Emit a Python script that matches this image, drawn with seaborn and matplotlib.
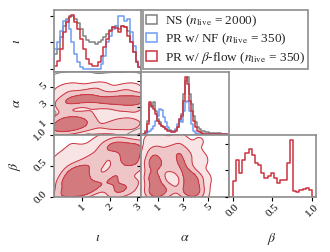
import numpy as np
import pandas as pd
import matplotlib
matplotlib.use("Agg")
import matplotlib.pyplot as plt
from matplotlib.colors import ListedColormap
from matplotlib.patches import Patch
from matplotlib.ticker import FixedLocator, MaxNLocator
import seaborn as sns

# ---- data (relative heights) ----
iota_ns = [45, 60, 95, 130, 150, 160, 160, 150, 138, 120, 100, 88, 82, 80, 75,
           82, 88, 95, 105, 118, 125, 130, 120, 130, 125, 115, 80, 50, 20, 5]
iota_nf = [60, 82, 115, 145, 148, 120, 80, 45, 20, 5, 0, 0, 0, 0, 0,
           0, 15, 40, 80, 100, 120, 130, 158, 160, 145, 150, 110, 70, 25, 5]
iota_bf = [8, 25, 60, 110, 140, 155, 162, 140, 120, 90, 60, 30, 15, 8, 8,
           20, 40, 65, 90, 115, 125, 122, 110, 128, 125, 100, 80, 50, 20, 5]

alpha_ns = [10, 40, 90, 80, 95, 70, 45, 35, 25, 20, 15, 12, 12, 10, 10, 12, 20, 40, 60, 120,
            160, 170, 120, 90, 55, 35, 20, 15, 10, 8, 6, 5, 4, 4, 3, 3, 2, 2, 1, 1]
alpha_nf = [0, 5, 10, 15, 25, 40, 55, 75, 72, 50, 35, 20, 10, 5, 5, 15, 30, 45, 35, 70,
            95, 100, 70, 30, 10, 3, 0, 0, 0, 0, 0, 0, 0, 0, 0, 0, 0, 0, 0, 0]
alpha_bf = [5, 30, 95, 85, 75, 60, 40, 30, 25, 20, 15, 10, 8, 5, 5, 10, 20, 45, 55, 100,
            170, 150, 100, 70, 40, 20, 10, 5, 3, 0, 0, 0, 0, 0, 0, 0, 0, 0, 0, 0]

beta_bf = [47, 112, 72, 112, 132, 144, 127, 102, 97, 72, 57, 62, 72, 57, 42,
           52, 52, 102, 172, 17, 14, 22, 24, 27, 22]

# 2D blobs (centre x, centre y, weight)
ia_x = [0.5, 0.9, 1.3, 1.7, 2.1, 2.5, 2.9, 3.1,
        0.15, 0.5, 0.9, 0.3, 0.7, 1.1, 2.3,
        0.3, 1.3, 2.3, 3.0, 3.0, 1.6, 0.5, 1.5, 2.6, 2.8]
ia_y = [3.4, 3.7, 3.7, 3.5, 3.5, 3.5, 3.5, 3.4,
        0.4, 0.5, 0.6, 1.2, 1.4, 1.1, 0.85,
        2.4, 2.2, 2.3, 2.2, 1.0, 0.5, 4.7, 4.8, 4.7, 0.2]
ia_w = [3, 3, 3, 2.5, 3, 3, 3, 2.5,
        3, 3, 2.5, 3, 2.5, 2, 2.5,
        1.2, 1, 1, 1.2, 1.2, 1, 1.2, 1.2, 1.2, 1]

ia_ns_x = [0.3, 1.0, 2.0, 2.8, 0.5, 1.5, 2.5, 0.5, 2.0, 1.2, 2.8]
ia_ns_y = [5.3, 5.5, 5.3, 5.4, 3.6, 3.4, 3.4, 0.6, 0.6, 2.0, 1.5]
ia_ns_w = [1, 1, 1, 1, 2, 2, 2, 2, 2, 1, 1]

ib_x = [0.3, 0.7, 1.1, 1.35, 0.4, 0.8, 1.2, 0.6, 0.95,
        1.95, 2.3, 2.7, 3.05, 2.5, 2.9, 3.1,
        2.2, 2.15, 2.25, 2.55,
        1.55, 1.6, 1.3, 0.3, 0.8, 3.0, 2.9, 1.7, 2.3, 2.7, 0.6, 1.5]
ib_y = [0.05, 0.08, 0.08, 0.15, 0.25, 0.28, 0.3, 0.42, 0.45,
        0.8, 0.82, 0.8, 0.78, 0.62, 0.6, 0.5,
        0.4, 0.25, 0.08, 0.15,
        0.5, 0.2, 0.65, 0.6, 0.7, 0.25, 0.05, 0.9, 0.98, 0.4, 0.88, 0.58]
ib_w = [3, 3, 3, 2, 3, 3, 2.5, 2.5, 2.5,
        2.5, 3, 3, 3, 3, 3, 2,
        2.5, 3, 3, 2,
        1.5, 1.5, 1.2, 1, 0.8, 1.5, 1.2, 0.8, 0.8, 1, 0.4, 1.5]

ab_x = [0.5, 1.0, 1.4, 0.5, 0.9, 0.5, 1.0, 0.7,
        2.7, 2.9, 3.2, 3.5, 3.6, 4.1, 3.9, 3.1,
        2.0, 2.0, 1.9, 1.2, 2.7, 4.3, 3.5, 0.3, 4.7, 4.3, 2.1]
ab_y = [0.08, 0.08, 0.12, 0.3, 0.3, 0.52, 0.55, 0.7,
        0.72, 0.55, 0.4, 0.25, 0.08, 0.1, 0.3, 0.1,
        0.45, 0.12, 0.75, 0.88, 0.9, 0.6, 0.7, 0.92, 0.3, 0.9, 0.62]
ab_w = [3, 3, 2, 3, 2.5, 3, 3, 2.5,
        2.5, 3, 3, 3, 3, 3, 2.5, 2,
        1.5, 1.5, 1.2, 1, 1, 1, 1, 0.5, 0.6, 0.5, 1.2]

labels = [r"NS ($n_{\rm live}$ = 2000)", r"PR w/ NF ($n_{\rm live}$ = 350)",
          r"PR w/ $\beta$-flow ($n_{\rm live}$ = 350)"]

GRAY, BLUE, RED = "#808080", "#6f9ef0", "#cc3340"
FILLS = ["#f8e4e5", "#efc6c8", "#d27a7e"]
LEVELS = [0.03, 0.2, 0.6]
SPINE = "#8c8c8c"

sns.set_style("ticks")
plt.rcParams["font.family"] = ["Liberation Serif", "DejaVu Serif"]
plt.rcParams["mathtext.fontset"] = "stix"

iota_lim = (0, np.pi)
alpha_lim = (-0.05 * 2 * np.pi, 1.05 * 2 * np.pi)
beta_lim = (0, 1)

fig, axes = plt.subplots(3, 3, figsize=(3.3, 2.52), dpi=100)
fig.subplots_adjust(left=0.1636, right=0.9576, top=0.9603, bottom=0.2183,
                    wspace=0, hspace=0)


def step_hist(ax, vals, lo, hi, color):
    edges = np.linspace(lo, hi, len(vals) + 1)
    w = edges[1] - edges[0]
    # pad with empty bins so the outline drops to the baseline
    edges = np.concatenate([[lo - w], edges, [hi + w]])
    df = pd.DataFrame({"x": (edges[:-1] + edges[1:]) / 2,
                       "h": np.concatenate([[0], vals, [0]])})
    sns.histplot(data=df, x="x", weights="h", bins=list(edges), element="step",
                 fill=False, color=color, linewidth=1.1, ax=ax)


def kde2d(ax, xs, ys, ws, bw):
    df = pd.DataFrame({"x": xs, "y": ys, "w": ws})
    for lv, fc in zip(LEVELS, FILLS):
        sns.kdeplot(data=df, x="x", y="y", weights="w", bw_method=bw, fill=True,
                    levels=[lv, 1], cmap=ListedColormap([fc]), ax=ax, cut=4)
    sns.kdeplot(data=df, x="x", y="y", weights="w", bw_method=bw, fill=False,
                levels=LEVELS, color=RED, linewidths=0.7, ax=ax, cut=4)


# 1D marginals
ax = axes[0, 0]
for v, c in [(iota_ns, GRAY), (iota_nf, BLUE), (iota_bf, RED)]:
    step_hist(ax, v, 0, np.pi, c)
m = max(max(iota_ns), max(iota_nf), max(iota_bf))
ax.set_ylim(-0.06 * m, 1.09 * m)
ax.set_xlim(iota_lim)

ax = axes[1, 1]
for v, c in [(alpha_ns, GRAY), (alpha_nf, BLUE), (alpha_bf, RED)]:
    step_hist(ax, v, 0, 2 * np.pi, c)
m = max(alpha_bf)
ax.set_ylim(-0.01 * m, 1.09 * m)
ax.set_xlim(alpha_lim)

ax = axes[2, 2]
step_hist(ax, beta_bf, 0, 1, RED)
ax.set_ylim(0, 1.09 * max(beta_bf))
ax.set_xlim(-0.05, 1.05)

# 2D panels
ax = axes[1, 0]
kde2d(ax, ia_x, ia_y, ia_w, 0.35)
ns_df = pd.DataFrame({"x": ia_ns_x, "y": ia_ns_y, "w": ia_ns_w})
sns.kdeplot(data=ns_df, x="x", y="y", weights="w", bw_method=0.4, levels=[0.05],
            color=GRAY, linewidths=0.7, ax=ax, cut=4)
ax.set_xlim(iota_lim)
ax.set_ylim(alpha_lim)

ax = axes[2, 0]
kde2d(ax, ib_x, ib_y, ib_w, 0.36)
ax.set_xlim(iota_lim)
ax.set_ylim(beta_lim)

ax = axes[2, 1]
kde2d(ax, ab_x, ab_y, ab_w, 0.36)
ax.set_xlim(alpha_lim)
ax.set_ylim(beta_lim)

for a in [axes[0, 1], axes[0, 2], axes[1, 2]]:
    a.set_visible(False)

iota_t, alpha_t, beta_t = [1, 2, 3], [1, 3, 5], [0.0, 0.5, 1.0]
xt = {0: iota_t, 1: alpha_t, 2: beta_t}
for i in range(3):
    for j in range(i + 1):
        a = axes[i, j]
        a.set_xlabel("")
        a.set_ylabel("")
        for s in a.spines.values():
            s.set_visible(True)
            s.set_color(SPINE)
            s.set_linewidth(1.2)
        a.xaxis.set_major_locator(FixedLocator(xt[j]))
        if i == j:
            a.yaxis.set_major_locator(MaxNLocator(3))
        else:
            a.yaxis.set_major_locator(FixedLocator(xt[i]))
        a.tick_params(length=3, width=0.8, labelsize=8, pad=1,
                      color="black", labelcolor="black")
        if i < 2:
            a.set_xticklabels([])
        if j > 0 or i == 0:
            a.set_yticklabels([])

axes[2, 0].set_xticklabels(["1", "2", "3"], rotation=45, ha="center", va="top")
axes[2, 1].set_xticklabels(["1", "3", "5"], rotation=45, ha="center", va="top")
axes[2, 2].set_xticklabels(["0.0", "0.5", "1.0"], rotation=45, ha="center", va="top")
axes[1, 0].set_yticklabels(["1", "3", "5"], rotation=45, va="center")
axes[2, 0].set_yticklabels(["0.0", "0.5", "1.0"], rotation=45, va="center")

for i, name in enumerate([r"$\iota$", r"$\alpha$", r"$\beta$"]):
    axes[i, 0].set_ylabel(name, fontsize=10)
    axes[i, 0].yaxis.set_label_coords(-0.36, 0.5)
    axes[2, i].set_xlabel(name, fontsize=10)
    axes[2, i].xaxis.set_label_coords(0.5, -0.55)

handles = [Patch(facecolor="none", edgecolor=c, linewidth=1.1) for c in (GRAY, BLUE, RED)]
leg = fig.legend(handles, labels, loc="upper left", bbox_to_anchor=(0.433, 0.960),
                 borderaxespad=0, fontsize=9.5, fancybox=False, framealpha=1,
                 edgecolor=SPINE, handlelength=0.8, handleheight=0.7,
                 handletextpad=0.6, borderpad=0.25, labelspacing=0.2)
leg.get_frame().set_linewidth(1.2)

fig.savefig("out.png", dpi=100)
